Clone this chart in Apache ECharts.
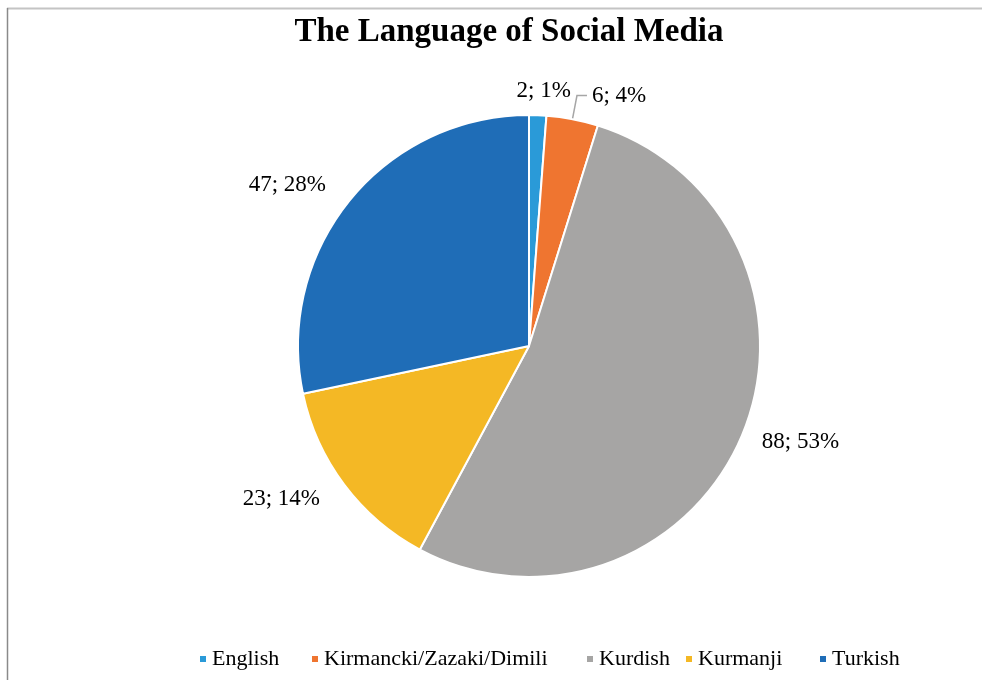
<!DOCTYPE html>
<html>
<head>
<meta charset="utf-8">
<script src="https://cdn.jsdelivr.net/npm/echarts@6/dist/echarts.min.js"></script>
<style>
  html, body { margin: 0; padding: 0; background: #ffffff; }
  #chart { width: 982px; height: 680px; }
</style>
</head>
<body>
<div id="chart"></div>
<script>
// Languages used on social media (respondent counts)
const categories = ['English', 'Kirmancki/Zazaki/Dimili', 'Kurdish', 'Kurmanji', 'Turkish'];
const counts = [2, 6, 88, 23, 47];
const colors = ['#2a9ad8', '#ef7530', '#a6a5a4', '#f4b825', '#1f6db7'];
const chartTitle = 'The Language of Social Media';

const serif = "'Liberation Serif', 'Times New Roman', serif";

// Per-slice label offsets along the radius (outside placement)
const labelLen = [24, 24, 16, 24, 24];
const labelLen2 = [0, 10, 0, 0, 0];
const showLine = [false, true, false, false, false];

const pieData = categories.map((name, i) => ({
  name: name,
  value: counts[i],
  itemStyle: { color: colors[i] },
  labelLine: { show: showLine[i], length: labelLen[i], length2: labelLen2[i] }
}));

// Legend entries are laid out individually along the bottom edge
const legendLefts = [193, 305, 580, 679, 813];
const legends = categories.map((name, i) => ({
  data: [name],
  left: legendLefts[i],
  top: 643,
  orient: 'horizontal',
  icon: 'rect',
  itemWidth: 8,
  itemHeight: 8,
  itemGap: 0,
  selectedMode: false,
  textStyle: { fontFamily: serif, fontSize: 22, color: '#000000' }
}));

const chart = echarts.init(document.getElementById('chart'), null, { renderer: 'canvas' });

chart.setOption({
  backgroundColor: '#ffffff',
  animation: false,
  title: {
    text: chartTitle,
    left: 504,
    top: 11,
    textAlign: 'center',
    textStyle: { fontFamily: serif, fontSize: 33, fontWeight: 'bold', color: '#000000' }
  },
  legend: legends,
  graphic: [
    { type: 'line', shape: { x1: 7, y1: 8.5, x2: 982, y2: 8.5 }, style: { stroke: '#c4c4c4', lineWidth: 2 } },
    { type: 'line', shape: { x1: 7.5, y1: 8, x2: 7.5, y2: 680 }, style: { stroke: '#8a8a8a', lineWidth: 1.5 } }
  ],
  series: [{
    type: 'pie',
    center: [529, 346],
    radius: [0, 231],
    startAngle: 90,
    clockwise: true,
    avoidLabelOverlap: false,
    itemStyle: { borderColor: '#ffffff', borderWidth: 2 },
    label: {
      show: true,
      position: 'outside',
      alignTo: 'none',
      fontFamily: serif,
      fontSize: 23,
      color: '#000000',
      formatter: function (p) { return p.value + '; ' + Math.round(p.percent) + '%'; }
    },
    labelLine: { lineStyle: { color: '#a6a6a6', width: 1.5 } },
    labelLayout: function (p) {
      if (p.dataIndex === 0) { return { align: 'center' }; }
      return {};
    },
    emphasis: { disabled: true },
    data: pieData
  }]
});
</script>
</body>
</html>
